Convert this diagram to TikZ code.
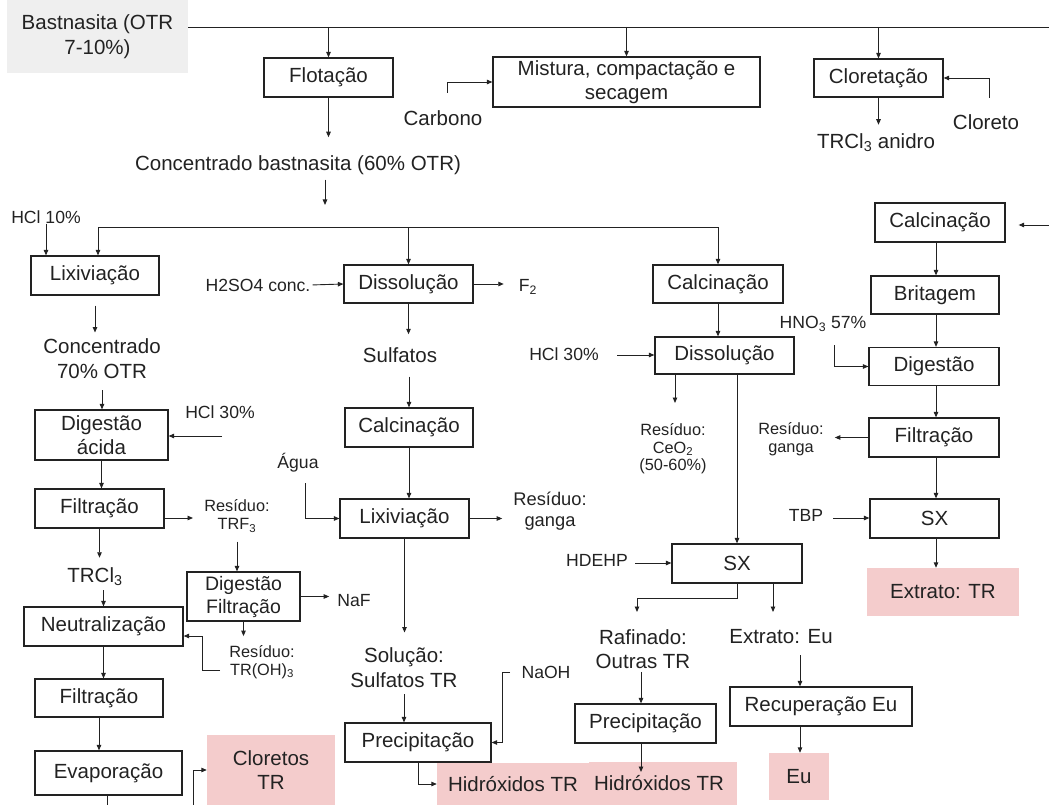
\documentclass[tikz,border=0pt]{standalone}
\usepackage{fontspec}
\setmainfont{Liberation Sans}
\usetikzlibrary{arrows.meta}
\definecolor{pinkc}{HTML}{F4CCCC}
\definecolor{grayc}{HTML}{EFEFEF}
\definecolor{inkc}{HTML}{222222}
\newcommand{\fmain}{\fontsize{20.5}{24.5}\selectfont}
\newcommand{\fmid}{\fontsize{19.5}{23}\selectfont}
\newcommand{\fmed}{\fontsize{17.6}{21}\selectfont}
\newcommand{\fsml}{\fontsize{16.3}{18}\selectfont}
\begin{document}
\begin{tikzpicture}[x=1pt,y=-1pt,
  box/.style={draw=inkc, line width=1.2, inner sep=0, align=center, font=\fmain, text=inkc},
  txt/.style={inner sep=0, align=center, font=\fmain, text=inkc},
  med/.style={inner sep=0, align=center, font=\fmed, text=inkc},
  sml/.style={inner sep=0, align=center, font=\fsml, text=inkc},
  pbox/.style={fill=pinkc, inner sep=0, align=center, font=\fmain, text=inkc},
  arr/.style={draw=inkc, line width=0.9, -{Stealth[length=5.5pt,width=4.5pt,inset=0pt]}},
  ln/.style={draw=inkc, line width=0.9}]
\useasboundingbox (0,0) rectangle (1049,805);

% ---------- top ----------
\node[fill=grayc, inner sep=0, align=center, font=\fmain, text=inkc, minimum width=181, minimum height=73] (bast) at (97.5,36.5) {Bastnasita (OTR\\7-10\%)};
\coordinate (topR) at (1049,27);
\node[box, minimum width=129, minimum height=39] (flot) at (328.5,77.5) {Flotação};
\node[box, minimum width=267, minimum height=50] (mist) at (626.5,82) {Mistura, compactação e\\secagem};
\node[box, minimum width=129, minimum height=38] (clor) at (878.5,78) {Cloretação};
\node[txt] (carb) at (443,118) {Carbono};
\node[txt] (clort) at (986,122) {Cloreto};
\node[txt] (trclan) at (876,143) {TRCl\textsubscript{3} anidro};
\node[txt] (conc) at (298,165) {Concentrado bastnasita (60\% OTR)};
\coordinate (carbA) at (447,93);
\coordinate (clorA) at (989,98);
\coordinate (cA) at (325,205);

\draw[ln] (bast.north east |- topR) -- (topR);
\draw[arr] (flot.north |- topR) -- (flot.north);
\draw[arr] (mist.north |- topR) -- (mist.north);
\draw[arr] (clor.north |- topR) -- (clor.north);
\draw[arr] (carbA) |- (mist.west);
\draw[arr] (clorA) |- (clor.east);
\draw[arr, shorten >=9] (clor.south) -- (clor.south |- trclan.north);
\draw[arr, shorten >=18] (flot.south) -- (flot.south |- conc.north);
\draw[arr, shorten <=5] (cA |- conc.south) -- (cA);

% ---------- distribution line ----------
\coordinate (hL) at (98,227);
\coordinate (hR) at (718,227);

% ---------- left column ----------
\node[med] (hcl10) at (46,217) {HCl 10\%};
\node[box, minimum width=128, minimum height=39] (lix1) at (95,275.5) {Lixiviação};
\node[txt] (conc70) at (102,358.5) {Concentrado\\70\% OTR};
\node[box, minimum width=133, minimum height=50] (dig) at (101.5,435) {Digestão\\ácida};
\node[med] (hcl30a) at (220,412) {HCl 30\%};
\node[box, minimum width=129, minimum height=39] (filt1) at (99.5,508.5) {Filtração};
\node[sml] (restrf) at (237,516) {Resíduo:\\TRF\textsubscript{3}};
\node[txt] (trcl) at (95,577) {TRCl\textsubscript{3}};
\node[box, minimum width=159, minimum height=39] (neut) at (103.5,626.5) {Neutralização};
\node[box, minimum width=128, minimum height=38] (filt2) at (99,698) {Filtração};
\node[box, minimum width=147, minimum height=44] (evap) at (108.5,773) {Evaporação};
\node[pbox, minimum width=128, minimum height=70] (clortr) at (271,770) {Cloretos\\TR};
\node[box, font=\fmid, minimum width=113, minimum height=49] (digfil) at (243.5,596.5) {Digestão\\Filtração};
\node[med] (naf) at (354,601) {NaF};
\node[sml] (resoh) at (262,662) {Resíduo:\\TR(OH)\textsubscript{3}};
\coordinate (hclA) at (222,436);
\coordinate (trfA) at (193,518);
\coordinate (ohA) at (220,670);
\coordinate (ohB) at (202,670);
\coordinate (ohC) at (0,636);
\coordinate (evB) at (107,805);
\coordinate (clB) at (193,805);

\draw[ln] (hL) -- (hR);
\draw[arr] (hL) -- (hL |- lix1.north);
\draw[arr] (hcl10.south) -- (hcl10.south |- lix1.north);
\draw[arr, shorten <=10, shorten >=6] (lix1.south) -- (lix1.south |- conc70.north);
\draw[arr, shorten <=12] (conc70.south) -- (conc70.south |- dig.north);
\draw[arr] (hclA) -- (dig.east |- hclA);
\draw[arr] (dig.south) -- (dig.south |- filt1.north);
\draw[arr] (filt1.east |- trfA) -- (trfA);
\draw[arr, shorten <=9] (restrf.south) -- (restrf.south |- digfil.north);
\draw[arr, shorten >=10] (filt1.south) -- (filt1.south |- trcl.north);
\draw[arr, shorten <=4] (neut.north |- trcl.south) -- (neut.north);
\draw[arr, shorten >=8] (digfil.east) -- (naf.west |- digfil.east);
\draw[arr, shorten >=9] (digfil.south) -- (digfil.south |- resoh.north);
\draw[arr] (ohA) -- (ohB) |- (neut.east |- ohC);
\draw[arr] (neut.south) -- (neut.south |- filt2.north);
\draw[arr] (filt2.south) -- (filt2.south |- evap.north);
\draw[ln] (evB |- evap.south) -- (evB);
\draw[arr] (clB) |- (clortr.west);

% ---------- middle column ----------
\node[med] (h2so4) at (258,285) {H2SO4 conc.};
\node[box, minimum width=129, minimum height=38] (diss1) at (408.5,284) {Dissolução};
\node[med] (f2) at (528,287) {F\textsubscript{2}};
\node[txt] (sulf) at (400,355) {Sulfatos};
\node[box, minimum width=128, minimum height=39] (calc1) at (409,427.5) {Calcinação};
\node[med] (agua) at (298,463) {Água};
\node[box, minimum width=129, minimum height=39] (lix2) at (404.5,518.5) {Lixiviação};
\node[inner sep=0, align=center, font=\fontsize{18.3}{21}\selectfont, text=inkc] (resg1) at (550,511.5) {Resíduo:\\ganga};
\node[txt] (solu) at (404,667.5) {Solução:\\Sulfatos TR};
\node[box, minimum width=146, minimum height=39] (prec1) at (418,742.5) {Precipitação};
\node[med] (naoh) at (546,672) {NaOH};
\node[pbox, minimum width=152, minimum height=42] (hid1) at (513,784) {Hidróxidos TR};
\node[pbox, minimum width=148, minimum height=43] (hid2) at (663,783.5) {\hspace*{-8pt}Hidróxidos TR};
\coordinate (aguaA) at (305,483);
\coordinate (naA) at (510,672);
\coordinate (naB) at (502,672);

\draw[arr] (diss1.north |- hL) -- (diss1.north);
\draw[arr, shorten <=2] (h2so4.east) -- (diss1.west);
\draw[arr, shorten >=15] (diss1.east) -- (f2.west |- diss1.east);
\draw[arr, shorten >=13] (diss1.south) -- (diss1.south |- sulf.north);
\draw[arr, shorten <=14] (calc1.north |- sulf.south) -- (calc1.north);
\draw[arr] (calc1.south) -- (calc1.south |- lix2.north);
\draw[arr] (aguaA) |- (lix2.west);
\draw[arr, shorten >=11] (lix2.east) -- (resg1.west |- lix2.east);
\draw[arr, shorten >=15] (lix2.south) -- (lix2.south |- solu.north);
\draw[arr, shorten <=7] (solu.south) -- (solu.south |- prec1.north);
\draw[arr] (naA) -- (naB) |- (prec1.east);
\draw[arr] (prec1.south) |- (hid1.west);

% ---------- third column ----------
\node[box, minimum width=130, minimum height=38] (calc2) at (718,284) {Calcinação};
\node[med] (hcl30b) at (564,354) {HCl 30\%};
\node[box, minimum width=139, minimum height=37] (diss2) at (724.5,355.5) {Dissolução};
\node[inner sep=0, align=center, font=\fontsize{16.3}{17.5}\selectfont, text=inkc] (resce) at (673,449) {Resíduo:\\CeO\textsubscript{2}\\(50-60\%)};
\node[box, minimum width=130, minimum height=39] (sx1) at (737,563.5) {SX};
\node[med] (hdehp) at (597,560) {HDEHP};
\node[txt] (raf) at (643,649) {Rafinado:\\Outras TR};
\node[txt] (exteu) at (781,637) {Extrato: Eu};
\node[box, minimum width=141, minimum height=39] (prec2) at (645.5,723.5) {Precipitação};
\node[box, minimum width=182, minimum height=39] (receu) at (821,706.5) {Recuperação Eu};
\node[pbox, minimum width=60, minimum height=47] (eu) at (799,776.5) {Eu};
\coordinate (hclB) at (617,355);
\coordinate (ceA) at (675,403);
\coordinate (hdA) at (635,563);
\coordinate (rafB) at (637,598);
\coordinate (rafA) at (637,612);
\coordinate (euA) at (773,612);
\coordinate (exA) at (800,655);
\coordinate (hidA) at (641,772);

\draw[arr] (hR) -- (hR |- calc2.north);
\draw[arr] (calc2.south) -- (calc2.south |- diss2.north);
\draw[arr] (hclB) -- (diss2.west |- hclB);
\draw[arr] (ceA |- diss2.south) -- (ceA);
\draw[arr] (sx1.north |- diss2.south) -- (sx1.north);
\draw[arr] (hdA) -- (sx1.west |- hdA);
\draw[arr] (sx1.south) |- (rafB) -- (rafA);
\draw[arr] (euA |- sx1.south) -- (euA);
\draw[arr, shorten <=3] (hidA |- raf.south) -- (hidA |- prec2.north);
\draw[arr] (hidA |- prec2.south) -- (hidA);
\draw[arr] (exA) -- (exA |- receu.north);
\draw[arr] (exA |- receu.south) -- (exA |- eu.north);

% ---------- right column ----------
\node[box, minimum width=130, minimum height=39] (calc3) at (940,222.5) {Calcinação};
\node[box, minimum width=128, minimum height=38] (brit) at (935,295) {Britagem};
\node[box, minimum width=130, minimum height=38] (dig2) at (934,366.5) {Digestão};
\node[box, minimum width=130, minimum height=39] (filt3) at (934,437.5) {Filtração};
\node[med] (hno3) at (823,324) {HNO\textsubscript{3} 57\%};
\node[sml] (resg2) at (791,439) {Resíduo:\\ganga};
\node[box, minimum width=129, minimum height=39] (sx2) at (934.5,518.5) {SX};
\node[med] (tbp) at (806,515) {TBP};
\node[pbox, minimum width=152, minimum height=48] (exttr) at (943,592) {Extrato: TR};
\coordinate (rA) at (1049,225);
\coordinate (colX) at (936,0);
\coordinate (hnA) at (834,345);
\coordinate (tbA) at (833,518);

\draw[arr, shorten >=13] (rA) -- (calc3.east |- rA);
\draw[arr] (colX |- calc3.south) -- (colX |- brit.north);
\draw[arr] (colX |- brit.south) -- (colX |- dig2.north);
\draw[arr] (colX |- dig2.south) -- (colX |- filt3.north);
\draw[arr] (colX |- filt3.south) -- (colX |- sx2.north);
\draw[arr] (colX |- sx2.south) -- (colX |- exttr.north);
\draw[arr] (hnA) |- (dig2.west);
\draw[arr, shorten >=11] (filt3.west) -- (resg2.east |- filt3.west);
\draw[arr] (tbA) -- (sx2.west |- tbA);
\end{tikzpicture}
\end{document}
